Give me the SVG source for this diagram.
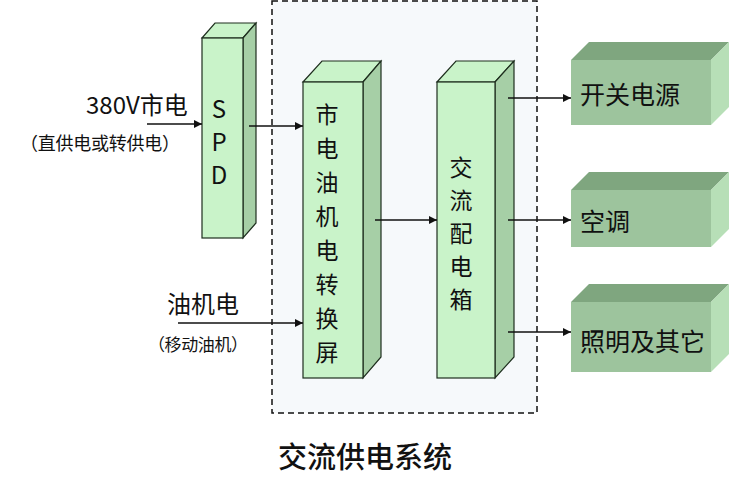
<svg xmlns="http://www.w3.org/2000/svg" width="730" height="489" viewBox="0 0 730 489">
<style>
.t{font-family:"Noto Sans CJK SC","Noto Sans",sans-serif;fill:#111;}
.front{fill:#c9f3c9;stroke:#1e2e1e;stroke-width:1.2;}
.top{fill:#c9f3c9;stroke:#1e2e1e;stroke-width:1.2;}
.side{fill:#a6cfa6;stroke:#1e2e1e;stroke-width:1.2;}
.ofront{fill:#9dc49d;}
.otop{fill:#7fa67f;}
.oside{fill:#b7dfb7;}
.ln{stroke:#111;stroke-width:1.3;fill:none;marker-end:url(#ah);}
</style>
<defs>
<marker id="ah" viewBox="0 0 10 10" refX="10" refY="5" markerWidth="8" markerHeight="8" markerUnits="userSpaceOnUse" orient="auto">
<path d="M0,0 L10,5 L0,10 z" fill="#111"/>
</marker>
</defs>
<rect width="730" height="489" fill="#fff"/>
<g id="dashed-box">
<rect x="272" y="1" width="265" height="412" fill="#f6f9fb" stroke="#111" stroke-width="1.5" stroke-dasharray="6,4"/>
</g>
<g id="spd">
<polygon class="top" points="202,38 215,23 256,23 243,38"/>
<polygon class="side" points="243,38 256,23 256,223 243,238"/>
<rect class="front" x="202" y="38" width="41" height="200"/>
<text class="t" x="219" y="118" font-size="24" text-anchor="middle">S</text>
<text class="t" x="219" y="151" font-size="24" text-anchor="middle">P</text>
<text class="t" x="219" y="184" font-size="24" text-anchor="middle">D</text>
</g>
<g id="converter">
<polygon class="top" points="303,82 322,61 381,61 363,82"/>
<polygon class="side" points="363,82 381,61 381,357 363,378"/>
<rect class="front" x="303" y="82" width="60" height="296"/>
<g class="t" font-size="23" text-anchor="middle">
<text x="327" y="123">市</text>
<text x="327" y="157">电</text>
<text x="327" y="191">油</text>
<text x="327" y="225">机</text>
<text x="327" y="259">电</text>
<text x="327" y="293">转</text>
<text x="327" y="327">换</text>
<text x="327" y="361">屏</text>
</g>
</g>
<g id="distribution">
<polygon class="top" points="437,82 456,61 514,61 495,82"/>
<polygon class="side" points="495,82 514,61 514,357 495,378"/>
<rect class="front" x="437" y="82" width="58" height="296"/>
<g class="t" font-size="23" text-anchor="middle">
<text x="461" y="176">交</text>
<text x="461" y="209">流</text>
<text x="461" y="242">配</text>
<text x="461" y="275">电</text>
<text x="461" y="308">箱</text>
</g>
</g>
<g id="out-switch">
<polygon class="otop" points="571,60 589,42 729,42 711,60"/>
<polygon class="oside" points="711,60 729,42 729,107 711,125"/>
<rect class="ofront" x="571" y="60" width="140" height="65"/>
<text class="t" x="580" y="104" font-size="25">开关电源</text>
</g>
<g id="out-ac">
<polygon class="otop" points="571,190 589,172 729,172 711,190"/>
<polygon class="oside" points="711,190 729,172 729,229 711,247"/>
<rect class="ofront" x="571" y="190" width="140" height="57"/>
<text class="t" x="580" y="231" font-size="25">空调</text>
</g>
<g id="out-light">
<polygon class="otop" points="571,302 589,284 729,284 711,302"/>
<polygon class="oside" points="711,302 729,284 729,354 711,372"/>
<rect class="ofront" x="571" y="302" width="140" height="70"/>
<text class="t" x="580" y="351" font-size="25">照明及其它</text>
</g>
<g id="connectors">
<line class="ln" x1="147" y1="124" x2="202" y2="124"/>
<line class="ln" x1="249" y1="126" x2="303" y2="126"/>
<line class="ln" x1="178" y1="323" x2="303" y2="323"/>
<line class="ln" x1="375" y1="220" x2="437" y2="220"/>
<line class="ln" x1="508" y1="98" x2="571" y2="98"/>
<line class="ln" x1="508" y1="220" x2="571" y2="220"/>
<line class="ln" x1="508" y1="332" x2="571" y2="332"/>
</g>
<g id="labels">
<text class="t" x="86" y="114" font-size="24">380V市电</text>
<text class="t" x="20" y="150" font-size="18" textLength="160" lengthAdjust="spacing">（直供电或转供电）</text>
<text class="t" x="167" y="313" font-size="24">油机电</text>
<text class="t" x="148" y="351" font-size="17" textLength="100" lengthAdjust="spacing">（移动油机）</text>
<text class="t" x="278" y="468" font-size="29" font-weight="500">交流供电系统</text>
</g>
</svg>
